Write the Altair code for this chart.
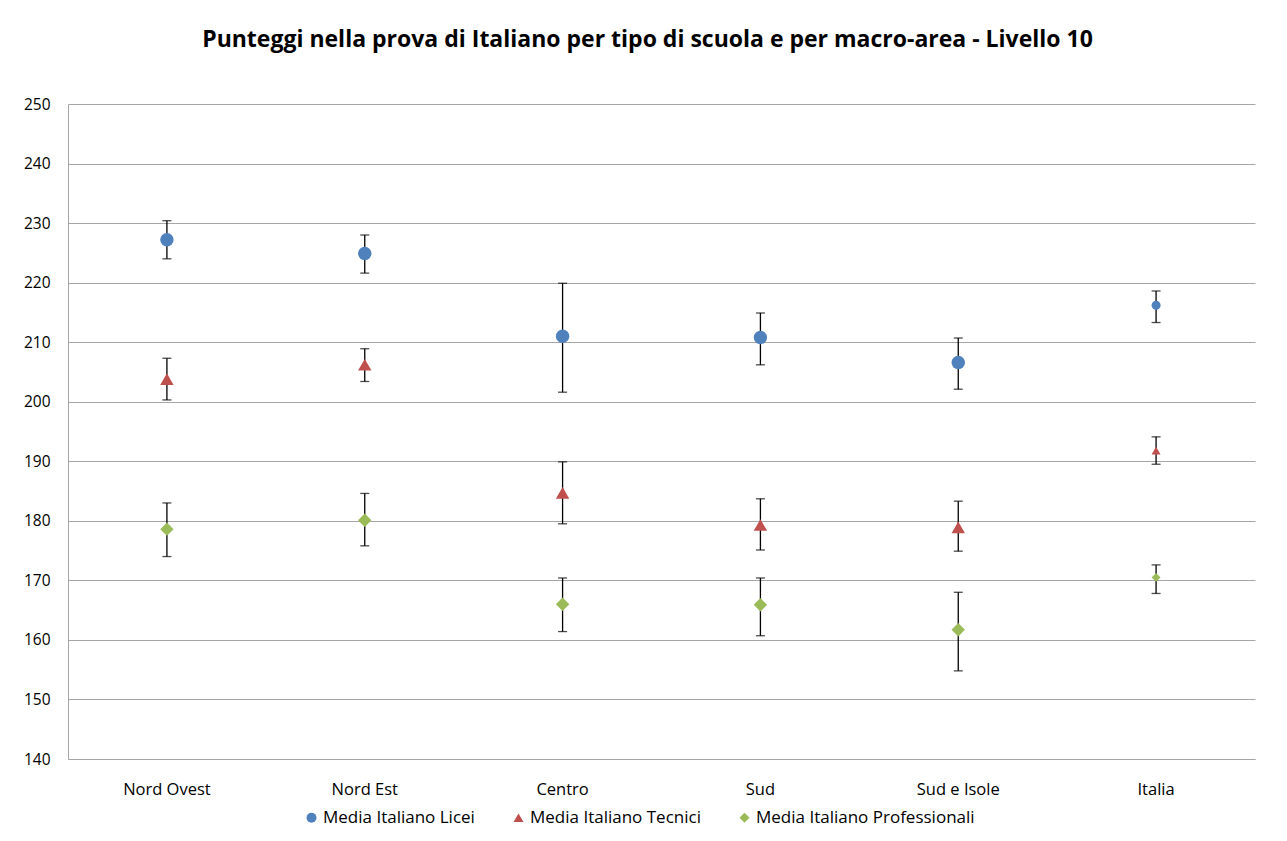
import altair as alt
import pandas as pd

regions = ["Nord Ovest", "Nord Est", "Centro", "Sud", "Sud e Isole", "Italia"]
series = ["Media Italiano Licei", "Media Italiano Tecnici", "Media Italiano Professionali"]

licei_mean = [227.2, 224.9, 211.0, 210.8, 206.6, 216.2]
licei_lo = [224.0, 221.6, 201.6, 206.2, 202.1, 213.3]
licei_hi = [230.4, 228.0, 219.9, 214.9, 210.7, 218.6]

tecnici_mean = [203.8, 206.2, 184.7, 179.3, 178.9, 191.8]
tecnici_lo = [200.3, 203.4, 179.5, 175.1, 174.9, 189.5]
tecnici_hi = [207.3, 208.9, 189.9, 183.7, 183.3, 194.1]

prof_mean = [178.6, 180.1, 166.0, 165.9, 161.7, 170.5]
prof_lo = [174.0, 175.8, 161.4, 160.7, 154.8, 167.8]
prof_hi = [183.0, 184.6, 170.4, 170.4, 168.0, 172.6]

y_ticks = [140, 150, 160, 170, 180, 190, 200, 210, 220, 230, 240, 250]

rows = []
for s, m, lo, hi in [
    (series[0], licei_mean, licei_lo, licei_hi),
    (series[1], tecnici_mean, tecnici_lo, tecnici_hi),
    (series[2], prof_mean, prof_lo, prof_hi),
]:
    for r, mv, lv, hv in zip(regions, m, lo, hi):
        rows.append({"region": r, "series": s, "mean": mv, "lo": lv, "hi": hv})
df = pd.DataFrame(rows)

FONT = "Open Sans"
GRID = "#a6a6a6"

x_enc = alt.X(
    "region:N",
    sort=regions,
    title=None,
    scale=alt.Scale(paddingInner=0, paddingOuter=0),
    axis=alt.Axis(labelAngle=0, ticks=False, labelPadding=22, domainColor=GRID,
                  labelFontSize=16.5, labelFont=FONT, labelColor="#000000", grid=False),
)
y_scale = alt.Scale(domain=[140, 250], nice=False, zero=False)
y_axis = alt.Axis(values=y_ticks, ticks=False, labelPadding=18, domainColor=GRID,
                  gridColor=GRID, gridWidth=1, labelFontSize=15.5, labelFont=FONT,
                  labelColor="#000000", title=None)

base = alt.Chart(df)

rules = base.mark_rule(color="#000000", strokeWidth=1.3).encode(
    x=x_enc,
    y=alt.Y("lo:Q", scale=y_scale, axis=y_axis),
    y2="hi:Q",
)
caps_lo = base.mark_tick(color="#000000", size=9, thickness=1.3).encode(
    x=x_enc, y=alt.Y("lo:Q", scale=y_scale)
)
caps_hi = base.mark_tick(color="#000000", size=9, thickness=1.3).encode(
    x=x_enc, y=alt.Y("hi:Q", scale=y_scale)
)

points = base.mark_point(filled=True, opacity=1, strokeWidth=0).encode(
    x=x_enc,
    y=alt.Y("mean:Q", scale=y_scale),
    color=alt.Color(
        "series:N",
        sort=series,
        scale=alt.Scale(domain=series, range=["#4f81bd", "#c0504d", "#9bbb59"]),
        legend=alt.Legend(
            title=None, orient="none", direction="horizontal",
            legendX=235, legendY=705,
            labelFont=FONT, labelFontSize=17, labelColor="#000000", labelLimit=400,
            symbolSize=100, symbolStrokeWidth=0, columnPadding=35, labelOffset=3,
        ),
    ),
    shape=alt.Shape(
        "series:N",
        sort=series,
        scale=alt.Scale(domain=series, range=["circle", "triangle-up", "diamond"]),
    ),
    size=alt.condition(alt.datum.region == "Italia", alt.value(80), alt.value(180)),
)

chart = (
    alt.layer(rules, caps_lo, caps_hi, points)
    .properties(
        width=1187,
        height=655,
        title=alt.TitleParams(
            "Punteggi nella prova di Italiano per tipo di scuola e per macro-area - Livello 10",
            font=FONT, fontSize=23, fontWeight="bold", color="#000000",
            anchor="middle", offset=45, dx=-14,
        ),
        autosize=alt.AutoSizeParams(type="none"),
        padding={"left": 60, "top": 96, "right": 16, "bottom": 70},
        background="#ffffff",
    )
    .configure_view(stroke=None)
)

chart.save("out.html", embed_options={"renderer": "svg", "actions": False})
